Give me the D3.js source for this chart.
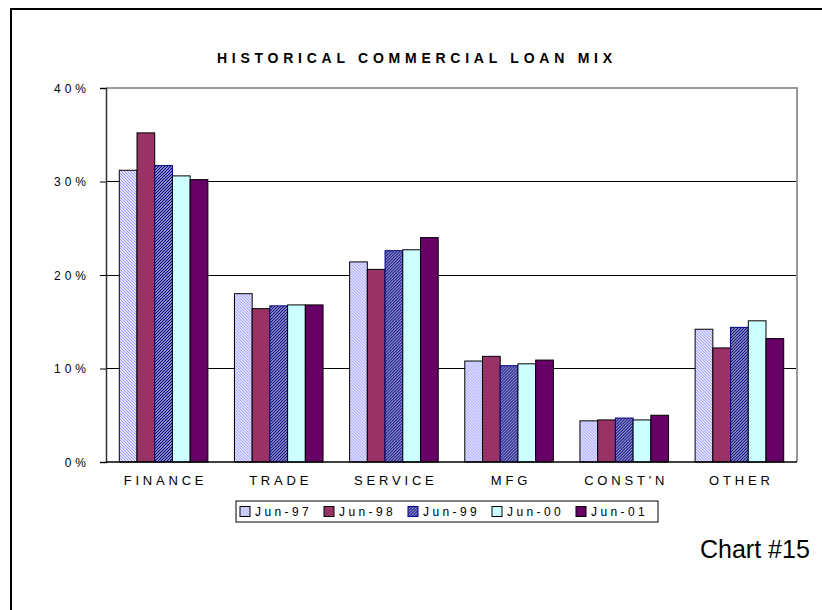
<!DOCTYPE html>
<html>
<head>
<meta charset="utf-8">
<script src="https://cdn.jsdelivr.net/npm/d3@7"></script>
<style>
  html, body { margin: 0; padding: 0; background: #fff; }
  svg { display: block; }
  text { font-family: "Liberation Sans", Arial, sans-serif; fill: #000; }
</style>
</head>
<body>
<svg id="chart" width="822" height="610"></svg>
<script>
// ---- data ----
const categories = ["FINANCE", "TRADE", "SERVICE", "MFG", "CONST'N", "OTHER"];
const seriesNames = ["Jun-97", "Jun-98", "Jun-99", "Jun-00", "Jun-01"];
const jun97 = [0.312, 0.180, 0.214, 0.108, 0.044, 0.142];
const jun98 = [0.352, 0.164, 0.206, 0.113, 0.045, 0.122];
const jun99 = [0.317, 0.167, 0.226, 0.103, 0.047, 0.144];
const jun00 = [0.306, 0.168, 0.227, 0.105, 0.045, 0.151];
const jun01 = [0.302, 0.168, 0.240, 0.109, 0.050, 0.132];
const yTicks = [0, 0.1, 0.2, 0.3, 0.4];
const titleText = "HISTORICAL COMMERCIAL LOAN MIX";
const footText = "Chart #15";

const seriesValues = [jun97, jun98, jun99, jun00, jun01];
const seriesFill = ["url(#pat97)", "#993366", "url(#pat99)", "#CCFFFF", "#660066"];
const seriesStroke = ["#000", "#000", "#000080", "#000", "#000"];

const svg = d3.select("#chart");

// patterns
const defs = svg.append("defs");
const p97 = defs.append("pattern").attr("id", "pat97").attr("patternUnits", "userSpaceOnUse")
  .attr("width", 3).attr("height", 3);
p97.append("rect").attr("width", 3).attr("height", 3).attr("fill", "#ffffff");
p97.append("path").attr("d", "M-1,-1 L4,4 M-1,2 L1,4 M2,-1 L4,1").attr("stroke", "#9999ff").attr("stroke-width", 1.1);
const p99 = defs.append("pattern").attr("id", "pat99").attr("patternUnits", "userSpaceOnUse")
  .attr("width", 3).attr("height", 3);
p99.append("rect").attr("width", 3).attr("height", 3).attr("fill", "#ffffff");
p99.append("path").attr("d", "M-1,4 L4,-1 M-1,1 L1,-1 M2,4 L4,2").attr("stroke", "#000080").attr("stroke-width", 1.4);

// outer border
svg.append("rect").attr("x", 11).attr("y", 9).attr("width", 830).attr("height", 620)
  .attr("fill", "none").attr("stroke", "#000").attr("stroke-width", 2);

// layout
const pLeft = 106, pRight = 797, pTop = 88, pBottom = 462;
const x0 = d3.scaleBand().domain(categories).range([pLeft, pRight]).paddingInner(0).paddingOuter(0);
const bw = x0.bandwidth();
const barW = bw / 6.5;
const x1 = d3.scaleBand().domain(seriesNames).range([barW * 0.75, bw - barW * 0.75]);
const y = d3.scaleLinear().domain([0, 0.4]).range([pBottom, pTop]);

// gridlines
svg.append("g").selectAll("line").data(yTicks.filter(d => d > 0 && d < 0.4)).join("line")
  .attr("x1", pLeft).attr("x2", pRight).attr("y1", d => y(d)).attr("y2", d => y(d))
  .attr("stroke", "#000").attr("stroke-width", 1).attr("shape-rendering", "crispEdges");

// plot border top/right (grey)
svg.append("path").attr("d", `M${pLeft},${y(0.4)} H${pRight} V${pBottom}`)
  .attr("fill", "none").attr("stroke", "#9a9a9a").attr("stroke-width", 2);

// bars
const groups = svg.append("g").selectAll("g").data(categories).join("g")
  .attr("transform", d => `translate(${x0(d)},0)`);
groups.selectAll("rect").data((c, i) => seriesNames.map((s, j) => ({ s, j, v: seriesValues[j][i] })))
  .join("rect")
  .attr("x", d => x1(d.s)).attr("width", x1.bandwidth())
  .attr("y", d => y(d.v)).attr("height", d => y(0) - y(d.v))
  .attr("fill", d => seriesFill[d.j]).attr("stroke", d => seriesStroke[d.j]).attr("stroke-width", 1);

// y axis
const yAxis = d3.axisLeft(y).tickValues(yTicks).tickSize(6).tickFormat(d3.format(".0%"));
const ya = svg.append("g").attr("transform", `translate(${pLeft},0)`).call(yAxis);
ya.select(".domain").attr("stroke", "#333").attr("stroke-width", 1.5);
ya.selectAll(".tick line").attr("stroke", "#000");
ya.selectAll(".tick text").attr("x", -16).attr("font-size", 12).style("letter-spacing", "4px")
  .attr("font-family", "Liberation Sans, Arial, sans-serif").attr("fill", "#000").attr("dy", "0.35em");

// x axis line
svg.append("line").attr("x1", pLeft).attr("x2", pRight).attr("y1", pBottom).attr("y2", pBottom)
  .attr("stroke", "#000").attr("stroke-width", 1.5);

// x labels
const xAxis = d3.axisBottom(x0).tickSize(0).tickPadding(14);
const xa = svg.append("g").attr("transform", `translate(0,${pBottom})`).call(xAxis);
xa.select(".domain").remove();
xa.selectAll(".tick text").attr("font-size", 13).style("letter-spacing", "3.8px")
  .attr("font-family", "Liberation Sans, Arial, sans-serif").attr("fill", "#000").attr("dx", 1.9);

// title
svg.append("text").attr("x", 217).attr("y", 63)
  .attr("font-size", 14).attr("font-weight", "bold")
  .attr("textLength", 395).attr("lengthAdjust", "spacing")
  .text(titleText);

// legend
const lg = svg.append("g");
lg.append("rect").attr("x", 236).attr("y", 501).attr("width", 422).attr("height", 21)
  .attr("fill", "#fff").attr("stroke", "#000").attr("stroke-width", 1);
const items = lg.selectAll("g").data(seriesNames).join("g")
  .attr("transform", (d, i) => `translate(${240 + i * 84},511.5)`);
items.append("rect").attr("x", 0).attr("y", -5).attr("width", 10).attr("height", 10)
  .attr("fill", (d, i) => seriesFill[i]).attr("stroke", (d, i) => seriesStroke[i]);
items.append("text").attr("x", 15).attr("dy", "0.36em").attr("font-size", 12)
  .style("letter-spacing", "3.4px").text(d => d);

// footer
svg.append("text").attr("x", 700).attr("y", 558).attr("font-size", 25).text(footText);
</script>
</body>
</html>
